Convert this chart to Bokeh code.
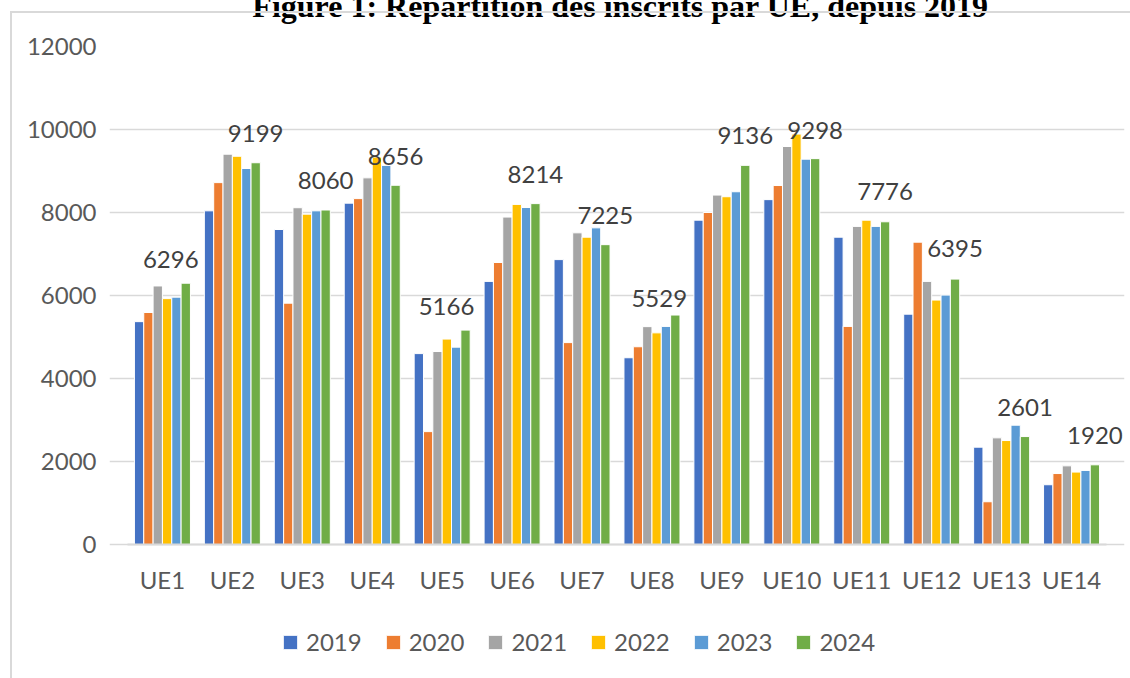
from bokeh.plotting import figure
from bokeh.models import (ColumnDataSource, FactorRange, Range1d, Legend, LegendItem,
                          LabelSet, Label, InlineStyleSheet)
from bokeh.transform import dodge
from bokeh.core.properties import value
from bokeh.embed import file_html
from bokeh.resources import INLINE

# ---------------- data ----------------
categories = ["UE1", "UE2", "UE3", "UE4", "UE5", "UE6", "UE7", "UE8", "UE9", "UE10",
              "UE11", "UE12", "UE13", "UE14"]
years = ["2019", "2020", "2021", "2022", "2023", "2024"]
v2019 = [5370, 8040, 7590, 8225, 4600, 6340, 6865, 4500, 7815, 8310, 7405, 5550, 2345, 1440]
v2020 = [5590, 8720, 5815, 8335, 2720, 6795, 4865, 4765, 8000, 8650, 5255, 7285, 1030, 1710]
v2021 = [6230, 9405, 8115, 8835, 4650, 7890, 7510, 5250, 8420, 9590, 7665, 6340, 2570, 1895]
v2022 = [5925, 9355, 7960, 9335, 4950, 8195, 7405, 5100, 8380, 9890, 7815, 5890, 2505, 1745]
v2023 = [5960, 9060, 8040, 9135, 4755, 8120, 7630, 5255, 8500, 9285, 7665, 6010, 2875, 1785]
v2024 = [6296, 9199, 8060, 8656, 5166, 8214, 7225, 5529, 9136, 9298, 7776, 6395, 2601, 1920]
y_ticks = [0, 2000, 4000, 6000, 8000, 10000, 12000]
title_text = "Figure 1: Répartition des inscrits par UE, depuis 2019"

# label placement tweaks (pixels) for the 2024 data labels
label_dx = [-15, 0, 0, 0, -19, 0, 0, -16, 0, 0, 0, 0, 0, 0]
label_dy = [15, 21, 21, 20, 15, 21, 21, 8, 21, 20, 22, 22, 21, 21]

colors = ["#4472C4", "#ED7D31", "#A5A5A5", "#FFC000", "#5B9BD5", "#70AD47"]

FONT = "Lato"
TXT = "#595959"
GRID = "#D9D9D9"

src = ColumnDataSource(dict(cat=categories,
                            y2019=v2019, y2020=v2020, y2021=v2021,
                            y2022=v2022, y2023=v2023, y2024=v2024,
                            lab=[str(v) for v in v2024],
                            ldx=label_dx, ldy=label_dy))

border_css = InlineStyleSheet(css="""
:host { position: relative; }
:host::after {
  content: ""; position: absolute; left: 10px; top: 11px; right: 0; bottom: 0;
  border-left: 2px solid #D9D9D9; border-top: 2px solid #D9D9D9;
  pointer-events: none;
}
""")

# layout (pixels): value axis spans 498 px; the frame continues below 0 to hold the legend
PLOT_H = 498
FRAME_H = 624
y_max = y_ticks[-1]
y_min = -y_max * (FRAME_H - PLOT_H) / PLOT_H

n = len(categories)
p = figure(x_range=FactorRange(*categories, range_padding=0.0367, range_padding_units="percent"),
           y_range=Range1d(y_min, y_max),
           frame_width=1015, frame_height=FRAME_H,
           output_backend="svg", toolbar_location=None,
           min_border_left=109, min_border_right=6, min_border_top=46,
           min_border_bottom=8)
p.stylesheets = [border_css]
p.outline_line_color = None
p.background_fill_color = "white"
p.border_fill_color = "white"

bw = 0.1335
renderers = []
for i, (yr, col) in enumerate(zip(years, colors)):
    r = p.vbar(x=dodge("cat", (i - 2.5) * bw, range=p.x_range), top="y" + yr,
               width=bw, source=src, fill_color=col, line_color="white",
               line_width=1.0)
    renderers.append(r)

# data labels (2024 series)
labels = LabelSet(x=dodge("cat", 2.5 * bw, range=p.x_range), y="y2024", text="lab",
                  x_offset="ldx", y_offset="ldy", source=src,
                  text_align="center", text_baseline="alphabetic",
                  text_font=value(FONT), text_font_size=value("24px"),
                  text_color="#404040")
p.add_layout(labels)

# axes
p.yaxis.ticker = y_ticks
p.yaxis.axis_line_color = None
p.yaxis.major_tick_line_color = None
p.yaxis.minor_tick_line_color = None
p.yaxis.major_label_standoff = 7
p.yaxis.major_label_text_font = FONT
p.yaxis.major_label_text_font_size = "24px"
p.yaxis.major_label_text_color = TXT

p.xaxis.fixed_location = 0
p.xaxis.bounds = (0, n)
p.xaxis.axis_line_color = GRID
p.xaxis.axis_line_width = 2
p.xaxis.major_tick_line_color = None
p.xaxis.minor_tick_line_color = None
p.xaxis.major_label_standoff = 14
p.xaxis.major_label_text_font = FONT
p.xaxis.major_label_text_font_size = "24px"
p.xaxis.major_label_text_color = TXT

p.xgrid.grid_line_color = None
p.ygrid.grid_line_color = GRID
p.ygrid.grid_line_width = 1.6
p.ygrid.bounds = (0, n)

# legend
legend = Legend(items=[LegendItem(label=yr, renderers=[r]) for yr, r in zip(years, renderers)],
                orientation="horizontal", location=(172, 14),
                glyph_width=18, glyph_height=18, label_standoff=7, spacing=22,
                padding=0, margin=0, border_line_color=None, background_fill_alpha=0,
                label_text_font=FONT, label_text_font_size="24px", label_text_color=TXT,
                label_height=20)
p.add_layout(legend)

# title (mostly cut off at top in the reference)
title = Label(x=620, y=5, x_units="canvas", y_units="canvas", text=title_text,
              text_font="Liberation Serif", text_font_size="32px", text_font_style="bold",
              text_align="center", text_baseline="alphabetic", text_color="black")
p.add_layout(title, "above")

open("out.html", "w").write(file_html(p, INLINE))
